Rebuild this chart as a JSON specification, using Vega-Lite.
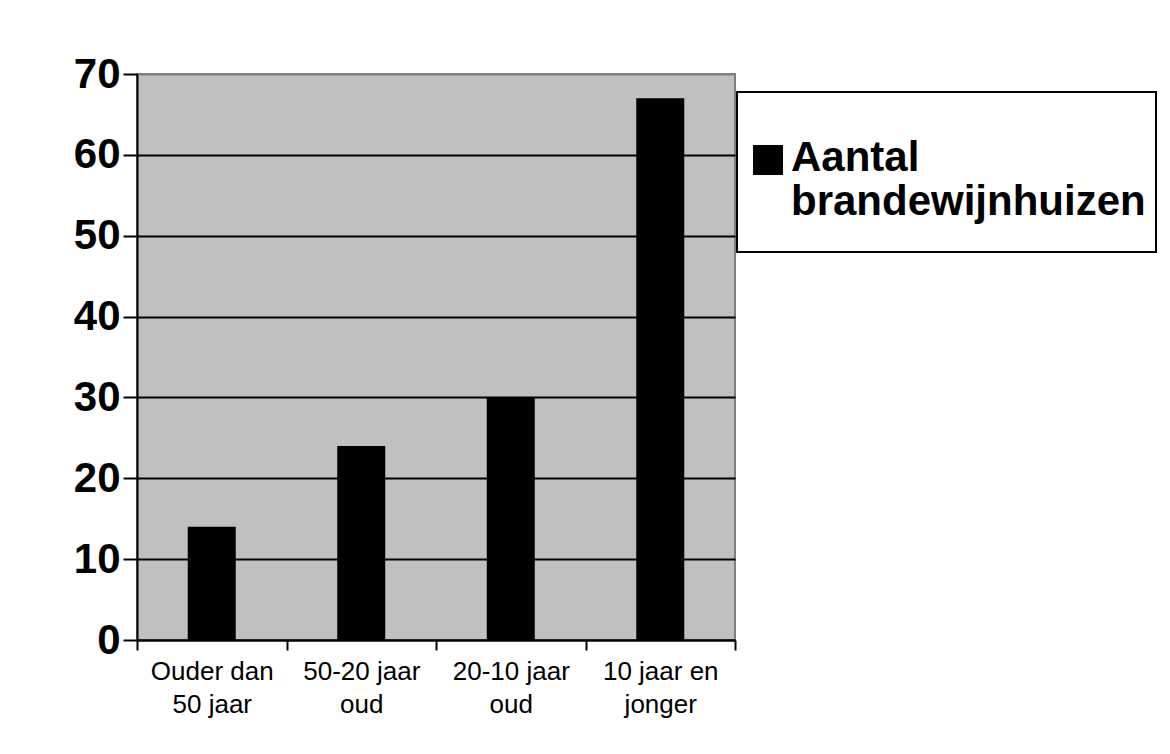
{
  "$schema": "https://vega.github.io/schema/vega-lite/v6.json",
  "width": 598,
  "height": 566,
  "autosize": {"type": "none"},
  "padding": {"left": 137, "top": 74, "right": 435, "bottom": 114},
  "background": "white",
  "data": {
    "values": [
      {"cat": "Ouder dan 50 jaar", "value": 14, "series": "Aantal brandewijnhuizen"},
      {"cat": "50-20 jaar oud", "value": 24, "series": "Aantal brandewijnhuizen"},
      {"cat": "20-10 jaar oud", "value": 30, "series": "Aantal brandewijnhuizen"},
      {"cat": "10 jaar en jonger", "value": 67, "series": "Aantal brandewijnhuizen"}
    ]
  },
  "mark": {"type": "bar", "size": 48},
  "encoding": {
    "x": {
      "field": "cat",
      "type": "nominal",
      "sort": null,
      "title": null,
      "scale": {"paddingInner": 0, "paddingOuter": 0},
      "axis": {
        "labelAngle": 0,
        "labelFont": "Liberation Sans",
        "labelFontSize": 26,
        "labelColor": "black",
        "labelPadding": 8,
        "labelLineHeight": 33,
        "labelExpr": "datum.label == 'Ouder dan 50 jaar' ? ['Ouder dan','50 jaar'] : datum.label == '50-20 jaar oud' ? ['50-20 jaar','oud'] : datum.label == '20-10 jaar oud' ? ['20-10 jaar','oud'] : datum.label == '10 jaar en jonger' ? ['10 jaar en','jonger'] : ''",
        "tickBand": "extent",
        "tickSize": 10,
        "tickColor": "black",
        "tickWidth": 2,
        "domainColor": "black",
        "domainWidth": 2,
        "labelLimit": 0
      }
    },
    "y": {
      "field": "value",
      "type": "quantitative",
      "title": null,
      "scale": {"domain": [0, 70]},
      "axis": {
        "values": [0, 10, 20, 30, 40, 50, 60, 70],
        "labelFont": "Liberation Sans",
        "labelFontSize": 42,
        "labelFontWeight": "bold",
        "labelColor": "black",
        "labelPadding": 3,
        "tickSize": 14,
        "tickColor": "black",
        "tickWidth": 2,
        "domainColor": "black",
        "domainWidth": 2,
        "grid": true,
        "gridColor": {"condition": {"test": "datum.value == 70", "value": "#808080"}, "value": "black"},
        "gridWidth": 2,
        "gridOpacity": 1
      }
    },
    "color": {
      "field": "series",
      "type": "nominal",
      "scale": {"range": ["black"]},
      "legend": {
        "title": null,
        "orient": "none",
        "legendX": 600,
        "legendY": 18,
        "strokeColor": "black",
        "fillColor": "white",
        "padding": 10,
        "symbolType": "square",
        "symbolSize": 900,
        "symbolStrokeWidth": 0,
        "labelFont": "Liberation Sans",
        "labelFontSize": 42,
        "labelFontWeight": "bold",
        "labelColor": "black",
        "labelLimit": 0,
        "labelOffset": 2,
        "labelLineHeight": 43,
        "labelExpr": "['Aantal','brandewijnhuizen']",
        "clipHeight": 140,
        "encode": {
          "legend": {"update": {"strokeWidth": {"value": 2}}},
          "labels": {"update": {"dy": {"value": -14}}},
          "symbols": {"update": {"y": {"value": 58}}}
        }
      }
    }
  },
  "config": {
    "view": {"fill": "#C0C0C0", "stroke": "#808080", "strokeWidth": 2}
  }
}
